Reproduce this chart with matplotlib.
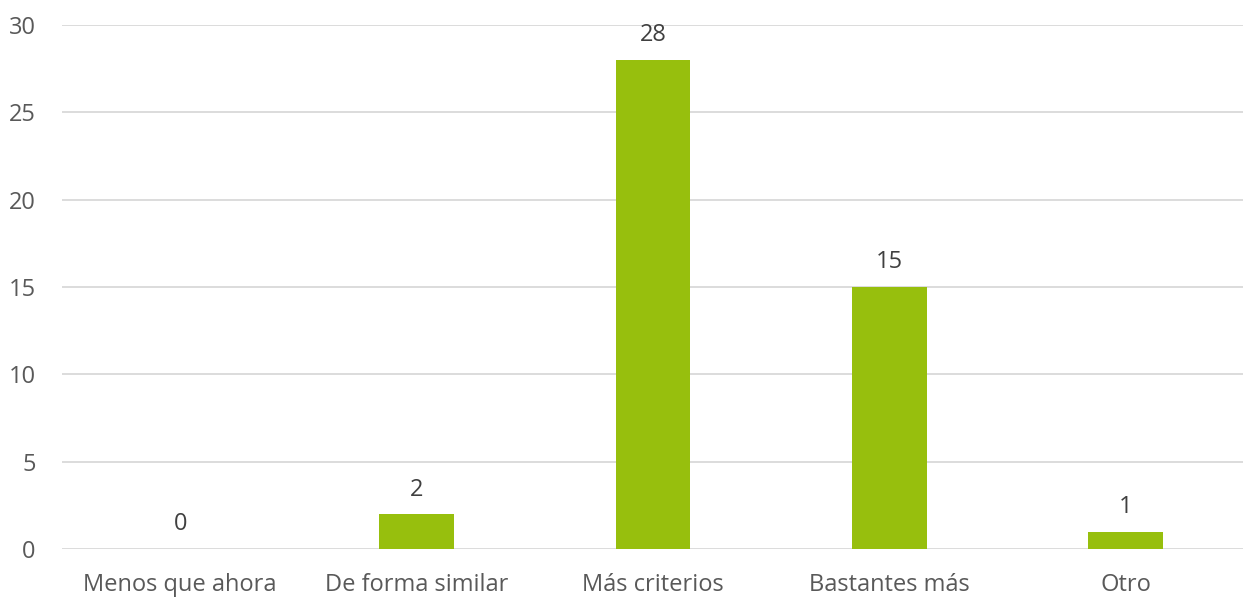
import matplotlib
matplotlib.use("Agg")
import matplotlib.pyplot as plt

categories = ["Menos que ahora", "De forma similar", "Más criterios", "Bastantes más", "Otro"]
values = [0, 2, 28, 15, 1]
yticks = [0, 5, 10, 15, 20, 25, 30]

plt.rcParams['font.family'] = ['Open Sans', 'DejaVu Sans']

W, H = 1243, 599
fig = plt.figure(figsize=(W/100, H/100), dpi=100)
ax = fig.add_axes([62/W, 1-549/H, (1244-62)/W, (549-25)/H])

x = list(range(len(categories)))
ax.bar(x, values, width=0.317, color="#97BF0D", zorder=3)
ax.set_xlim(-0.5, len(categories)-0.5)
ax.set_ylim(0, 30)
ax.set_yticks(yticks)
ax.set_xticks(x)
ax.set_xticklabels(categories)
ax.grid(axis='y', color='#D9D9D9', linewidth=1.3, zorder=0)
ax.set_axisbelow(True)
for s in ax.spines.values():
    s.set_visible(False)
ax.tick_params(axis='both', length=0, labelsize=17, labelcolor='#595959')
ax.tick_params(axis='y', pad=19)
ax.tick_params(axis='x', pad=17)
for xi, v in zip(x, values):
    ax.annotate(str(v), (xi, v), xytext=(0, 9), textcoords='offset points',
                ha='center', va='bottom', fontsize=17, color='#404040')
fig.savefig("out.png", dpi=100)
